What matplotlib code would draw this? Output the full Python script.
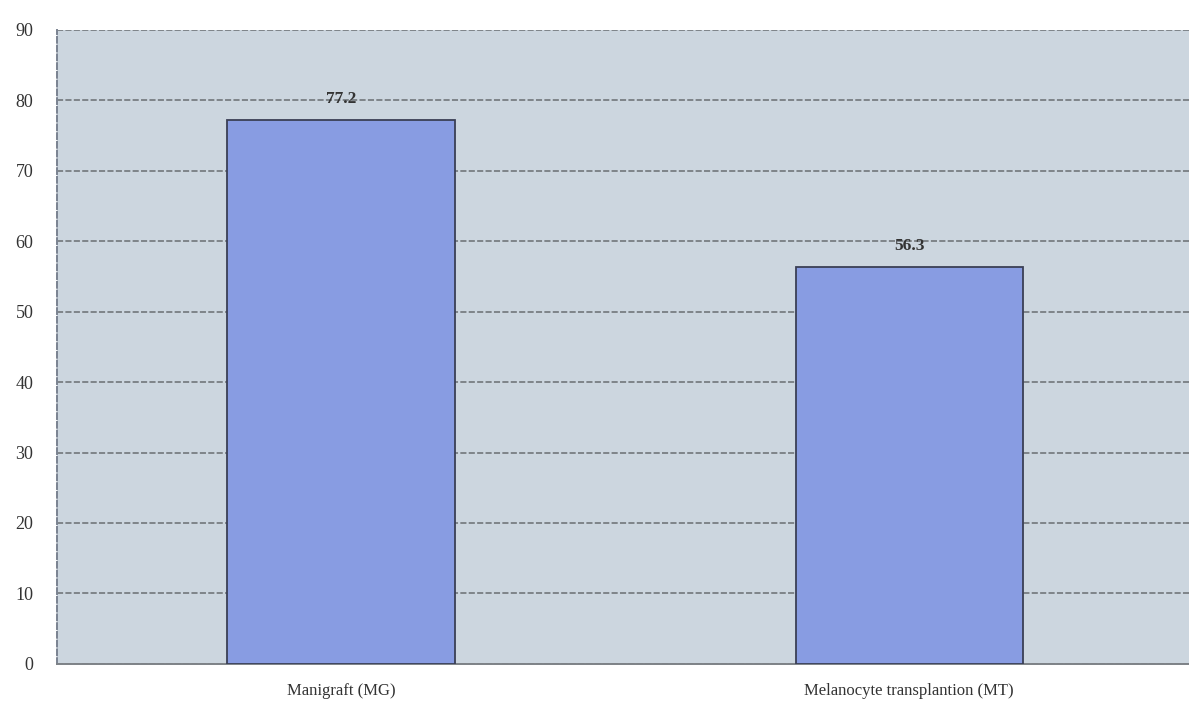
import matplotlib
matplotlib.use("Agg")
import matplotlib.pyplot as plt

groups = ["Manigraft (MG)", "Melanocyte transplantion (MT)"]
values = [77.2, 56.3]
yticks = [0, 10, 20, 30, 40, 50, 60, 70, 80, 90]

plt.rcParams['font.family'] = ['Liberation Serif', 'DejaVu Serif']

fig = plt.figure(figsize=(11.89, 7.10), dpi=100)
ax = fig.add_axes([0.048, 0.065, 0.9555, 0.893])
ax.set_facecolor('#ccd6df')

x = [0, 1]
bars = ax.bar(x, values, width=0.4, color='#889ce2', edgecolor='#3a3f55', linewidth=1.3, zorder=3)
for b, v in zip(bars, values):
    ax.text(b.get_x() + b.get_width() / 2, v + 1.9, f"{v}", ha='center', va='bottom',
            fontsize=12.5, fontweight='bold', color='#333333', zorder=4)

ax.set_xlim(-0.5, 1.5)
ax.set_ylim(0, 90)
ax.set_yticks(yticks)
ax.set_xticks(x)
ax.set_xticklabels(groups, fontsize=12, color='#333333')
ax.tick_params(axis='y', labelsize=13, colors='#333333', length=0, pad=17)
ax.tick_params(axis='x', length=0, pad=14)

ax.grid(axis='y', color='#6a6e72', linestyle=(0, (4, 1.5)), linewidth=1.1, zorder=1)
ax.set_axisbelow(True)

for s in ['top', 'right']:
    ax.spines[s].set_visible(False)
ax.spines['left'].set_color('#7a8290')
ax.spines['left'].set_linestyle((0, (3, 1.5)))
ax.spines['left'].set_linewidth(1.4)
ax.spines['bottom'].set_color('#7d8287')
ax.spines['bottom'].set_linewidth(1.4)

fig.savefig('out.png', dpi=100)
